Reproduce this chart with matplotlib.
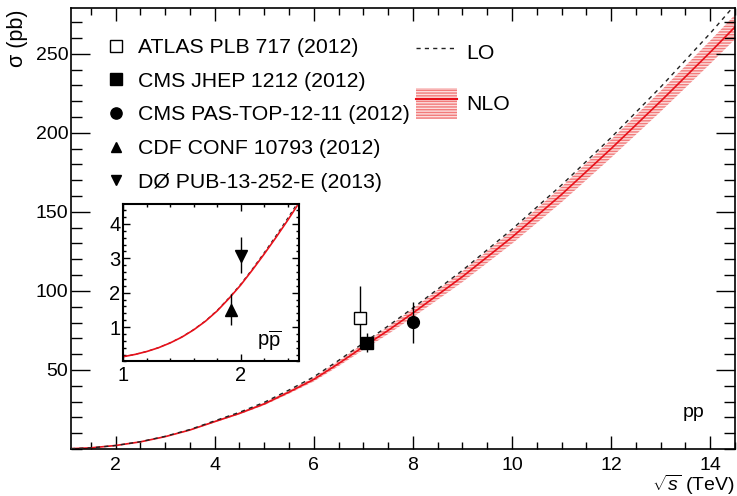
import numpy as np
import matplotlib
matplotlib.use('Agg')
import matplotlib.pyplot as plt
from matplotlib.lines import Line2D
from matplotlib.patches import Patch
from matplotlib.ticker import MultipleLocator

plt.rcParams['font.family'] = ['Liberation Sans', 'DejaVu Sans']
plt.rcParams['mathtext.fontset'] = 'custom'
plt.rcParams['mathtext.rm'] = 'Liberation Sans'
plt.rcParams['mathtext.it'] = 'Liberation Sans:italic'
plt.rcParams['hatch.linewidth'] = 1.0

# pp theory curves (sqrt(s) in TeV, sigma in pb)
x_pp = [1.1, 1.5, 2, 2.5, 3, 3.5, 4, 4.5, 5, 5.5, 6, 6.5, 7, 7.5, 8, 9, 10, 11, 12, 13, 14, 14.5]
nlo_pp = [0.2, 0.7, 2.2, 4.5, 7.8, 12.0, 17.3, 22.5, 28.5, 36.0, 44.0, 54.0, 64.7, 75.0, 86.0,
          109, 134, 161, 190, 220, 251, 267]
nlo_pp_err = [0.01, 0.02, 0.07, 0.13, 0.2, 0.3, 0.45, 0.6, 0.8, 1.0, 1.3, 1.6, 2.0, 2.3, 2.7,
              3.4, 4.1, 4.9, 5.7, 6.5, 7.3, 7.7]
lo_pp = [0.2, 0.7, 2.2, 4.6, 8.0, 12.3, 17.8, 23.2, 29.5, 37.3, 45.6, 56.0, 67.0, 77.8, 89.2,
         113, 139, 167, 197, 229, 263, 281]

# ppbar theory curves (inset)
x_ppbar = [1.0, 1.1, 1.2, 1.3, 1.4, 1.5, 1.6, 1.7, 1.8, 1.9, 2.0, 2.1, 2.2, 2.3, 2.4, 2.5]
nlo_ppbar = [0.14, 0.205, 0.29, 0.40, 0.54, 0.71, 0.92, 1.17, 1.47, 1.83, 2.22, 2.66, 3.12,
             3.60, 4.10, 4.62]
lo_ppbar = [0.14, 0.206, 0.292, 0.403, 0.545, 0.717, 0.93, 1.18, 1.485, 1.85, 2.245, 2.69,
            3.16, 3.65, 4.16, 4.69]

# measurements
labels = ['ATLAS PLB 717 (2012)', 'CMS JHEP 1212 (2012)', 'CMS PAS-TOP-12-11 (2012)',
          'CDF CONF 10793 (2012)', 'DØ PUB-13-252-E (2013)']
meas_x = [6.93, 7.08, 8.0, 1.92, 2.0]
meas_y = [83.0, 67.2, 80.1, 1.49, 3.07]
meas_up = [20.0, 6.1, 13.0, 0.47, 0.54]
meas_dn = [20.0, 6.1, 13.0, 0.42, 0.49]
markers = ['s', 's', 'o', '^', 'v']
fills = ['white', 'black', 'black', 'black', 'black']
msizes = [8.5, 9, 8.5, 8, 8]

red = '#e8101a'
band_face = '#fcdede'
band_hatch = '#f27a7a'

fig = plt.figure(figsize=(7.37, 4.96), dpi=100)
ax = fig.add_axes([0.0963, 0.0948, 0.901, 0.8891])

ax.fill_between(x_pp, np.array(nlo_pp) - np.array(nlo_pp_err), np.array(nlo_pp) + np.array(nlo_pp_err),
                facecolor=band_face, edgecolor=band_hatch, hatch='------', linewidth=0, zorder=1)
ax.plot(x_pp, nlo_pp, color=red, lw=1.2, zorder=2)
ax.plot(x_pp, lo_pp, color='#222222', lw=1.0, ls=(0, (3, 3)), zorder=3)

for i in range(3):
    ax.errorbar(meas_x[i], meas_y[i], yerr=[[meas_dn[i]], [meas_up[i]]], fmt=markers[i],
                mfc=fills[i], mec='black', ecolor='black', ms=msizes[i], elinewidth=1.0,
                capsize=0, zorder=6 if i == 1 else 5)

ax.set_xlim(1.1, 14.5)
ax.set_ylim(0, 279)
ax.xaxis.set_major_locator(MultipleLocator(2))
ax.xaxis.set_minor_locator(MultipleLocator(0.5))
ax.yaxis.set_major_locator(MultipleLocator(50))
ax.yaxis.set_minor_locator(MultipleLocator(10))
ax.tick_params(axis='both', which='both', direction='in', top=True, right=True, labelsize=14)
ax.tick_params(axis='x', which='major', length=9.4, width=1.0, pad=6)
ax.tick_params(axis='x', which='minor', length=4.8, width=1.0)
ax.tick_params(axis='y', which='major', length=13.7, width=1.0, pad=2)
ax.tick_params(axis='y', which='minor', length=7.6, width=1.0)
ax.set_yticks([50, 100, 150, 200, 250])
ax.set_xticks([2, 4, 6, 8, 10, 12, 14])
for s in ax.spines.values():
    s.set_linewidth(1.2)

ax.text(-0.080, 0.997, 'σ (pb)', transform=ax.transAxes, rotation=90, ha='center', va='top', fontsize=15.5)
ax.text(1.0, -0.081, r'$\sqrt{s}$ (TeV)', transform=ax.transAxes, ha='right', va='center', fontsize=14)
ax.text(0.938, 0.082, 'pp', transform=ax.transAxes, ha='center', va='center', fontsize=14)

handles = [Line2D([], [], marker=markers[i], mfc=fills[i], mec='black', color='black', ls='none',
                  ms=msizes[i] * 0.95) for i in range(5)]
leg1 = ax.legend(handles, labels, loc='upper left', bbox_to_anchor=(0.052, 0.932), frameon=False,
                 fontsize=15.3, labelspacing=0.69, handletextpad=0.55, handlelength=1.0,
                 borderaxespad=0, borderpad=0)
ax.add_artist(leg1)

nlo_handle = (Patch(facecolor=band_face, edgecolor=band_hatch, hatch='------', linewidth=0),
              Line2D([], [], color=red, lw=1.5))
lo_handle = Line2D([], [], color='#222222', lw=1.0, ls=(0, (3, 3)))
ax.legend([lo_handle, nlo_handle], ['LO', 'NLO'], loc='upper left', bbox_to_anchor=(0.52, 0.935),
          frameon=False, fontsize=15.3, labelspacing=0.92, handletextpad=0.45, handlelength=1.9,
          handleheight=1.9, borderaxespad=0, borderpad=0)

# inset: ppbar
axi = fig.add_axes([0.1673, 0.2712, 0.2388, 0.3169])
axi.plot(x_ppbar, nlo_ppbar, color=red, lw=1.2, zorder=2)
axi.plot(x_ppbar, lo_ppbar, color='#222222', lw=0.8, ls=(0, (3, 3)), zorder=1)
for i in range(3, 5):
    axi.errorbar(meas_x[i], meas_y[i], yerr=[[meas_dn[i]], [meas_up[i]]], fmt=markers[i],
                 mfc=fills[i], mec='black', ecolor='black', ms=msizes[i], elinewidth=1.0,
                 capsize=0, zorder=5)
axi.set_xlim(1.0, 2.5)
axi.set_ylim(0, 4.57)
axi.xaxis.set_major_locator(MultipleLocator(1))
axi.xaxis.set_minor_locator(MultipleLocator(0.2))
axi.yaxis.set_major_locator(MultipleLocator(1))
axi.yaxis.set_minor_locator(MultipleLocator(0.2))
axi.set_yticks([1, 2, 3, 4])
axi.tick_params(axis='both', which='both', direction='in', top=True, right=True, labelsize=14.5)
axi.tick_params(axis='both', which='major', length=5, width=1.0)
axi.tick_params(axis='both', which='minor', length=2.5, width=1.0)
axi.tick_params(axis='x', which='major', pad=3)
axi.tick_params(axis='y', which='major', pad=2)
for s in axi.spines.values():
    s.set_linewidth(1.5)
axi.text(0.83, 0.13, r'p$\overline{\mathrm{p}}$', transform=axi.transAxes, ha='center', va='center',
         fontsize=14.5)

fig.savefig('out.png', dpi=100)
